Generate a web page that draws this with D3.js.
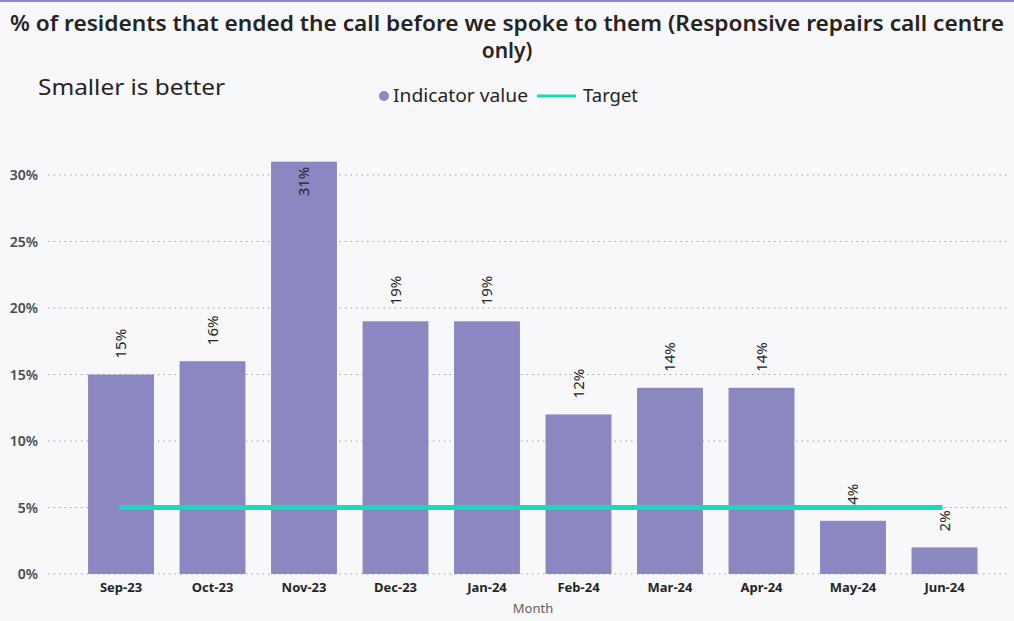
<!DOCTYPE html>
<html>
<head>
<meta charset="utf-8">
<script src="https://cdn.jsdelivr.net/npm/d3@7"></script>
<style>
  html, body { margin: 0; padding: 0; background: #f8f8fb; }
  svg { display: block; }
  text { font-family: "Noto Sans", "Open Sans", sans-serif; }
</style>
</head>
<body>
<svg id="chart" width="1014" height="621"></svg>
<script>
// Monthly share of residents who hung up before being answered
const months = ["Sep-23", "Oct-23", "Nov-23", "Dec-23", "Jan-24", "Feb-24", "Mar-24", "Apr-24", "May-24", "Jun-24"];
const indicatorValues = [15, 16, 31, 19, 19, 12, 14, 14, 4, 2];
const targetValues = [5, 5, 5, 5, 5, 5, 5, 5, 5, 5];
const yTicks = [0, 5, 10, 15, 20, 25, 30];

const svg = d3.select("#chart");
const W = 1014, H = 621;

const barColor = "#8b87c0";
const targetColor = "#1ad9b8";

// card background and top accent
svg.append("rect").attr("x", 0).attr("y", 0).attr("width", W).attr("height", H).attr("fill", "#f8f8fb");
svg.append("rect").attr("x", 0).attr("y", 0).attr("width", W).attr("height", 2).attr("fill", "#8d86c9");

const x = d3.scaleBand()
  .domain(months)
  .range([75.25, 990.25])
  .paddingInner(0.28)
  .paddingOuter(0.14);

const y = d3.scaleLinear()
  .domain([0, 30])
  .range([574, 175]);

// title
const title = svg.append("g").attr("font-weight", 600).attr("fill", "#252423").attr("font-size", 21).attr("text-anchor", "middle");
title.append("text").attr("x", 507).attr("y", 31).attr("textLength", 994).attr("lengthAdjust", "spacingAndGlyphs")
  .text("% of residents that ended the call before we spoke to them (Responsive repairs call centre");
title.append("text").attr("x", 507).attr("y", 58).text("only)");

svg.append("text").attr("x", 38).attr("y", 95).attr("font-size", 21).attr("fill", "#252423")
  .attr("textLength", 187).attr("lengthAdjust", "spacingAndGlyphs")
  .text("Smaller is better");

// legend
const legend = svg.append("g").attr("font-size", 18).attr("fill", "#252423");
legend.append("circle").attr("cx", 384).attr("cy", 96).attr("r", 5).attr("fill", barColor);
legend.append("text").attr("x", 393).attr("y", 102).attr("textLength", 135).attr("lengthAdjust", "spacingAndGlyphs").text("Indicator value");
legend.append("line").attr("x1", 537).attr("x2", 576).attr("y1", 96).attr("y2", 96)
  .attr("stroke", targetColor).attr("stroke-width", 3);
legend.append("text").attr("x", 583).attr("y", 102).attr("textLength", 55).attr("lengthAdjust", "spacingAndGlyphs").text("Target");

// gridlines
svg.append("g")
  .selectAll("line")
  .data(yTicks)
  .join("line")
  .attr("x1", 48).attr("x2", 1010)
  .attr("y1", d => y(d)).attr("y2", d => y(d))
  .attr("stroke", "#a0a0aa")
  .attr("stroke-width", 1)
  .attr("stroke-dasharray", "1.5,4");

// y axis
const yAxis = d3.axisLeft(y).tickValues(yTicks).tickFormat(d => d + "%").tickSize(0).tickPadding(0);
const yg = svg.append("g").attr("transform", "translate(38,0)").call(yAxis);
yg.select(".domain").remove();
yg.selectAll("text").attr("font-size", 14).attr("font-weight", 600).attr("fill", "#4a4a4a")
  .attr("font-family", "Noto Sans, sans-serif").attr("dy", "0.35em");

// bars
svg.append("g")
  .selectAll("rect")
  .data(indicatorValues)
  .join("rect")
  .attr("x", (d, i) => x(months[i]))
  .attr("y", d => y(d))
  .attr("width", x.bandwidth())
  .attr("height", d => y(0) - y(d))
  .attr("fill", barColor);

// x axis
const xAxis = d3.axisBottom(x).tickSize(0).tickPadding(9);
const xg = svg.append("g").attr("transform", `translate(0,${y(0)})`).call(xAxis);
xg.select(".domain").remove();
xg.selectAll("text").attr("font-size", 13).attr("font-weight", 700).attr("fill", "#252423").attr("font-family", "Noto Sans, sans-serif");

svg.append("text").attr("x", 533).attr("y", 613).attr("text-anchor", "middle")
  .attr("font-size", 13).attr("fill", "#605e5c").text("Month");

// target line
const line = d3.line()
  .x((d, i) => x(months[i]) + x.bandwidth() / 2 - 2)
  .y(d => y(d));
svg.append("path")
  .datum(targetValues)
  .attr("d", line)
  .attr("fill", "none")
  .attr("stroke", targetColor)
  .attr("stroke-width", 5);

// value labels, rotated; placed inside the top of the tallest bar
const maxVal = d3.max(indicatorValues);
svg.append("g")
  .selectAll("text")
  .data(indicatorValues)
  .join("text")
  .attr("transform", (d, i) => {
    const cx = x(months[i]) + x.bandwidth() / 2;
    const cy = d === maxVal ? y(d) + 5 : y(d) - 16;
    return `translate(${cx + 5},${cy}) rotate(-90)`;
  })
  .attr("text-anchor", d => d === maxVal ? "end" : "start")
  .attr("font-size", 15)
  .attr("fill", "#252423")
  .text(d => d + "%");
</script>
</body>
</html>
